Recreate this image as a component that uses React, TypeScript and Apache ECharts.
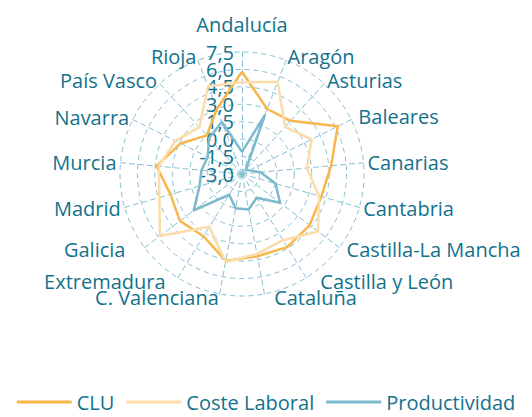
import React, { useEffect, useRef } from "react";
import * as echarts from "echarts";

// Regions, clockwise from the top
const regions = [
  "Andalucía",
  "Aragón",
  "Asturias",
  "Baleares",
  "Canarias",
  "Cantabria",
  "Castilla-La Mancha",
  "Castilla y León",
  "Cataluña",
  "C. Valenciana",
  "Extremadura",
  "Galicia",
  "Madrid",
  "Murcia",
  "Navarra",
  "País Vasco",
  "Rioja",
];

const clu = [5.8, 3.0, 3.2, 6.2, 4.7, 4.1, 4.3, 4.4, 4.2, 4.6, 3.3, 3.7, 3.4, 4.4, 2.9, 1.5, 3.0];
const costeLaboral = [4.9, 5.5, 2.5, 3.7, 2.6, 3.9, 5.2, 3.7, 4.0, 4.7, 2.35, 5.85, 4.4, 4.2, 3.4, 2.45, 5.1];
const productividad = [-1.1, 2.4, -2.5, -2.3, -1.4, 0.0, 1.1, -0.6, 0.1, 0.0, -0.9, 2.2, 0.8, 0.5, 0.3, 1.2, 1.8];

const seriesNames = ["CLU", "Coste Laboral", "Productividad"];
const axisMin = -3;
const axisMax = 7.5;
const axisSplits = 7;

const seriesColors = ["#f8b64c", "#fddcab", "#7cb9cc"];
const TEXT_COLOR = "#13728b";
const GRID_COLOR = "#86bfd2";
const FONT = "'Open Sans', sans-serif";
const FONT_SIZE = 20;

// label placement tweaks (style only)
const nameTweaks: Record<string, any> = {
  "Andalucía": { nameGap: 18 },
  "Baleares": { nameGap: 8 },
  "Castilla-La Mancha": { nameTextStyle: { padding: [0, 0, 10, 4] } },
  "Castilla y León": { nameTextStyle: { padding: [0, 0, 4, 12] } },
  "Cataluña": { nameTextStyle: { padding: [10, 0, 0, 9] } },
  "C. Valenciana": { nameTextStyle: { padding: [16, 0, 0, 0] } },
  "Extremadura": { nameTextStyle: { padding: [0, 10, 10, 0] } },
  "Galicia": { nameTextStyle: { padding: [0, 16, 12, 0] } },
};

export default function App() {
  const ref = useRef<HTMLDivElement>(null);

  useEffect(() => {
    document.body.style.margin = "0";
    if (!ref.current) return;
    const chart = echarts.init(ref.current, undefined, { renderer: "svg" });

    // ECharts places radar indicators counter-clockwise; reorder for clockwise layout
    const order = [0];
    for (let i = regions.length - 1; i >= 1; i--) order.push(i);

    const step = (axisMax - axisMin) / axisSplits;
    const fmt = (v: number) => v.toFixed(1).replace(".", ",");
    // tick labels split over two overlaid radars so that none gets auto-hidden
    const labelFor = (parity: number) => (v: number) =>
      Math.round((v - axisMin) / step) % 2 === parity ? fmt(v) : "";

    const makeIndicators = (parity: number | null) =>
      order.map((i, k) => {
        const name = regions[i];
        const ind: any = { name, min: axisMin, max: axisMax, ...(nameTweaks[name] || {}) };
        if (k === 0 && parity !== null) {
          ind.axisLabel = {
            show: true,
            showMinLabel: true,
            showMaxLabel: true,
            hideOverlap: false,
            color: TEXT_COLOR,
            fontSize: FONT_SIZE,
            fontFamily: FONT,
            margin: 8,
            formatter: labelFor(parity),
          };
        }
        return ind;
      });

    const reorder = (arr: number[]) => order.map((i) => arr[i]);
    const allData = [clu, costeLaboral, productividad];

    const radarBase = {
      center: [242, 174],
      radius: 122,
      shape: "circle",
      splitNumber: axisSplits,
      axisNameGap: 4,
      splitArea: { show: false },
      axisTick: { show: false },
      axisLabel: { show: false },
    };

    chart.setOption({
      animation: false,
      color: seriesColors,
      textStyle: { fontFamily: FONT },
      legend: {
        bottom: 0,
        left: "center",
        icon: "rect",
        itemWidth: 55,
        itemHeight: 3,
        itemGap: 12,
        textStyle: { color: TEXT_COLOR, fontSize: FONT_SIZE, fontFamily: FONT },
        data: seriesNames,
      },
      radar: [
        {
          ...radarBase,
          axisName: { color: TEXT_COLOR, fontSize: FONT_SIZE, fontFamily: FONT },
          axisLine: { lineStyle: { color: GRID_COLOR, type: [5, 4], width: 1 } },
          splitLine: { lineStyle: { color: GRID_COLOR, type: [5, 4], width: 1 } },
          indicator: makeIndicators(0),
        },
        {
          ...radarBase,
          axisName: { show: false },
          axisLine: { show: false },
          splitLine: { show: false },
          indicator: makeIndicators(1),
        },
      ],
      series: [
        {
          type: "radar",
          radarIndex: 0,
          symbol: "none",
          data: seriesNames.map((n, s) => ({
            name: n,
            value: reorder(allData[s]),
            lineStyle: { color: seriesColors[s], width: 2.5 },
            itemStyle: { color: seriesColors[s] },
          })),
        },
      ],
    });

    return () => chart.dispose();
  }, []);

  return <div ref={ref} style={{ width: 532, height: 417 }} />;
}
